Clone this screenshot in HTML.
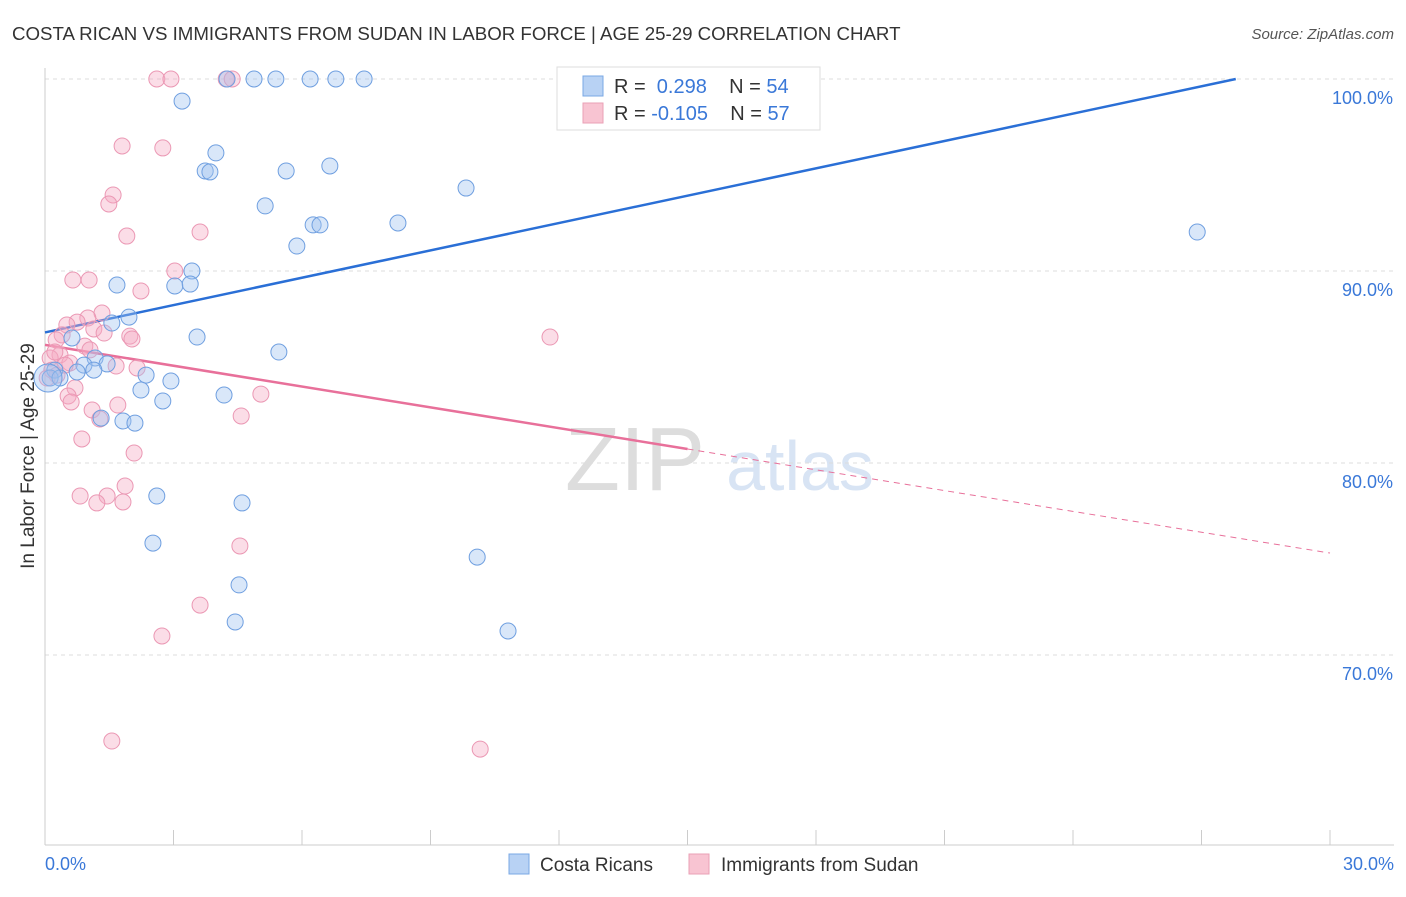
<!DOCTYPE html>
<html><head><meta charset="utf-8"><style>
body{margin:0;background:#fff;font-family:"Liberation Sans",sans-serif;}
svg text{font-family:"Liberation Sans",sans-serif;}
</style></head><body>
<svg id="chart" width="1406" height="892" viewBox="0 0 1406 892" xmlns="http://www.w3.org/2000/svg">
<text x="12" y="40" font-size="18.7" fill="#333">COSTA RICAN VS IMMIGRANTS FROM SUDAN IN LABOR FORCE | AGE 25-29 CORRELATION CHART</text>
<text x="1394" y="39" font-size="15" fill="#555" text-anchor="end" font-style="italic">Source: ZipAtlas.com</text>
<text transform="translate(34,456) rotate(-90)" font-size="19" fill="#333" text-anchor="middle">In Labor Force | Age 25-29</text>
<g>
<text x="635" y="490" font-size="90" fill="#ddd" font-family="Liberation Serif" text-anchor="middle">ZIP</text>
<text x="800" y="490" font-size="70" fill="#d8e4f4" text-anchor="middle">atlas</text>
</g>
<g id="grid"></g><g id="axes"></g><g id="trend"></g><g id="pts"></g>
<g>
<rect x="557" y="67" width="263" height="63" fill="#fff" stroke="#ddd"/>
<rect x="583" y="76" width="20" height="20" fill="#b8d2f4" stroke="#7aa8e4"/>
<text x="614" y="93" font-size="20" fill="#333">R = <tspan fill="#3a78d8">&#160;0.298</tspan>&#160;&#160;&#160;&#160;N = <tspan fill="#3a78d8">54</tspan></text>
<rect x="583" y="103" width="20" height="20" fill="#f8c4d2" stroke="#eaa0b6"/>
<text x="614" y="120" font-size="20" fill="#333">R = <tspan fill="#3a78d8">-0.105</tspan>&#160;&#160;&#160;&#160;N = <tspan fill="#3a78d8">57</tspan></text>
</g>
<g>
<rect x="509" y="854" width="20" height="20" fill="#b8d2f4" stroke="#7aa8e4"/>
<text x="540" y="871" font-size="19" fill="#333">Costa Ricans</text>
<rect x="689" y="854" width="20" height="20" fill="#f8c4d2" stroke="#eaa0b6"/>
<text x="721" y="871" font-size="19" fill="#333">Immigrants from Sudan</text>
</g>
</svg>
<script>
const yTicks=[100,90,80,70];
const yTickLabels=["100.0%","90.0%","80.0%","70.0%"];
const xTickLabels=["0.0%","30.0%"];
const blueX=[4.25,4.88,5.39,6.19,6.79,7.45,3.20,3.99,3.74,3.85,5.63,6.65,9.83,5.14,6.26,6.42,8.24,5.88,26.90,1.68,3.43,3.03,3.39,1.96,1.56,0.63,3.55,5.46,1.17,0.91,1.45,1.14,0.75,0.23,0.12,0.35,2.36,2.94,2.24,2.75,4.18,1.82,2.10,1.31,2.61,4.60,2.52,10.09,4.53,4.44,10.81,14.92,16.62,0.07];
const blueY=[100,100,100,100,100,100,98.85,96.15,95.21,95.16,95.21,95.47,94.32,93.39,92.40,92.40,92.50,91.30,92.03,89.27,90.0,89.22,89.32,87.60,87.29,86.51,86.56,85.78,85.47,85.10,85.16,84.84,84.74,84.84,84.43,84.43,84.58,84.27,83.80,83.23,83.54,82.19,82.08,82.34,78.28,77.92,75.83,75.10,73.65,71.72,71.25,100,100,84.43];
const pinkX=[2.61,2.94,4.23,4.37,1.80,2.75,1.59,1.49,1.91,3.62,0.65,1.03,3.03,2.24,1.33,1.00,0.75,0.51,1.14,0.40,0.26,1.98,1.38,2.03,0.93,0.35,0.12,0.58,1.66,2.15,0.16,0.28,0.70,0.54,0.61,5.04,1.10,1.70,4.58,1.28,0.86,2.08,1.87,0.82,1.45,1.21,1.82,4.55,3.62,2.73,1.56,10.16,11.79,1.05,0.23,0.05,0.47];
const pinkY=[100,100,100,100,96.51,96.41,93.96,93.49,91.82,92.03,89.53,89.53,90.0,88.96,87.81,87.55,87.34,87.19,86.98,86.67,86.41,86.61,86.77,86.46,86.09,85.63,85.47,85.21,85.05,84.95,84.84,84.58,83.91,83.49,83.18,83.59,82.76,83.02,82.45,82.29,81.25,80.52,78.80,78.28,78.28,77.92,77.97,75.68,72.60,70.99,65.52,65.10,86.56,85.89,85.78,84.43,85.10];
const blueTrendX=[0,27.8], blueTrendY=[86.8,100];
const pinkTrendX=[0,15,30], pinkTrendY=[86.15,80.73,75.31];
const NS="http://www.w3.org/2000/svg";
const xs=v=>45+v/30*1285, ys=v=>79+(100-v)*19.2;
function mk(t,a,p){const e=document.createElementNS(NS,t);for(const k in a)e.setAttribute(k,a[k]);p.appendChild(e);return e;}
const grid=document.getElementById('grid'),axes=document.getElementById('axes');
yTicks.forEach((t,i)=>{
 const l=mk('line',{x1:45,x2:1394,y1:ys(t),y2:ys(t),stroke:'#ddd','stroke-dasharray':'4,4'},grid);
 
 
 const tx=mk('text',{x:1393,y:ys(t)+25,'font-size':18,fill:'#3a78d8','text-anchor':'end'},axes);
 tx.textContent=yTickLabels[i];
 
 
});
mk('line',{x1:45,x2:45,y1:68,y2:845,stroke:'#ccc'},axes);
mk('line',{x1:45,x2:1394,y1:845,y2:845,stroke:'#ccc'},axes);
for(let i=0;i<=10;i++){mk('line',{x1:xs(i*3),x2:xs(i*3),y1:830,y2:845,stroke:'#ccc'},axes);}
[[0,45,'start'],[1,1394,'end']].forEach(([i,x,a])=>{const t=mk('text',{x:x,y:870,'font-size':18,fill:'#3a78d8','text-anchor':a},axes);t.textContent=xTickLabels[i];

});
const tr=document.getElementById('trend');
const bl=mk('line',{x1:xs(blueTrendX[0]),y1:ys(blueTrendY[0]),x2:xs(blueTrendX[1]),y2:ys(blueTrendY[1]),stroke:'#2a6fd6','stroke-width':2.5},tr);


const pl=mk('line',{x1:xs(pinkTrendX[0]),y1:ys(pinkTrendY[0]),x2:xs(pinkTrendX[1]),y2:ys(pinkTrendY[1]),stroke:'#e8709a','stroke-width':2.5},tr);


const pd=mk('line',{x1:xs(pinkTrendX[1]),y1:ys(pinkTrendY[1]),x2:xs(pinkTrendX[2]),y2:ys(pinkTrendY[2]),stroke:'#e8709a','stroke-width':1,'stroke-dasharray':'6,5'},tr);


const pts=document.getElementById('pts');
pinkX.forEach((x,i)=>{const c=mk('circle',{cx:xs(x),cy:ys(pinkY[i]),r:8,fill:'rgba(246,170,195,0.4)',stroke:'#eb98b4','stroke-width':1},pts);

});
blueX.forEach((x,i)=>{const c=mk('circle',{cx:xs(x),cy:ys(blueY[i]),r:i==blueX.length-1?14:8,fill:'rgba(160,195,240,0.4)',stroke:'#6f9fe0','stroke-width':1},pts);

});
</script>
</body></html>
